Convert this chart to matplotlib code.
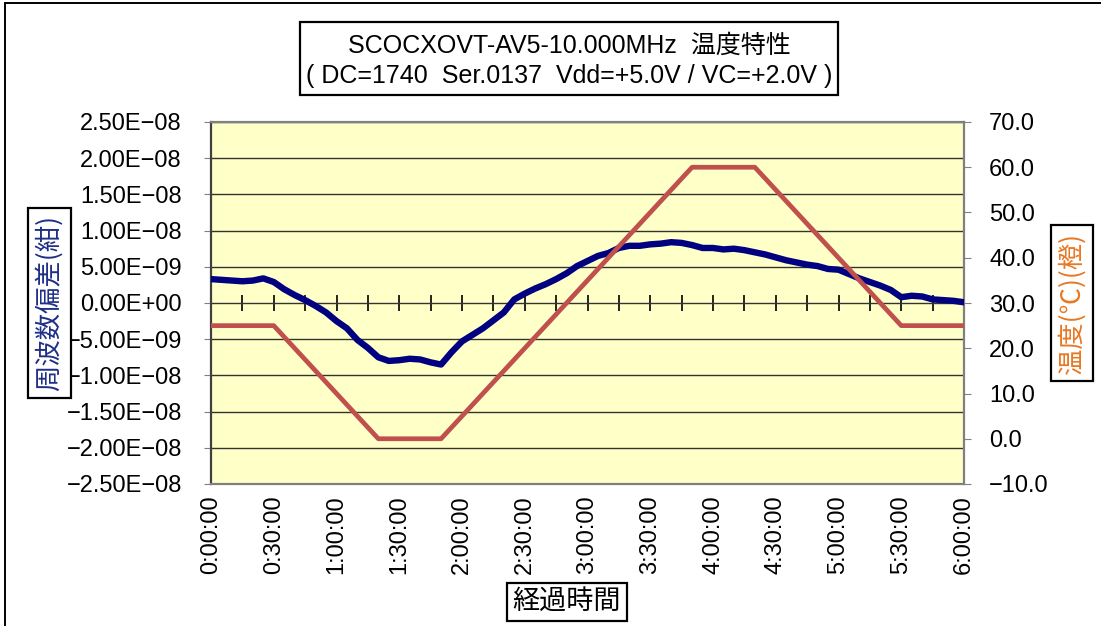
import matplotlib
matplotlib.use("Agg")
import matplotlib.pyplot as plt
from matplotlib.ticker import MultipleLocator, FuncFormatter
from matplotlib.patches import Rectangle

# ---- data ----
freq_time_min = list(range(0, 361, 5))
freq_dev_e9 = [3.3, 3.2, 3.1, 3.0, 3.1, 3.4, 2.9, 1.9, 1.1, 0.4,
               -0.4, -1.3, -2.5, -3.5, -5.1, -6.2, -7.5, -8.0, -7.9, -7.7,
               -7.8, -8.2, -8.5, -6.8, -5.3, -4.4, -3.5, -2.4, -1.3, 0.5,
               1.3, 2.0, 2.6, 3.3, 4.1, 5.1, 5.8, 6.5, 6.9, 7.6,
               7.9, 7.9, 8.1, 8.2, 8.4, 8.3, 8.0, 7.6, 7.6, 7.4,
               7.5, 7.3, 7.0, 6.7, 6.3, 5.9, 5.6, 5.3, 5.1, 4.7,
               4.6, 4.0, 3.4, 2.9, 2.4, 1.8, 0.8, 1.0, 0.9, 0.5,
               0.4, 0.3, 0.1]
freq_dev = [v * 1e-9 for v in freq_dev_e9]

temp_time_min = [0, 30, 80, 110, 230, 260, 330, 360]
temp_c = [25, 25, 0, 0, 60, 60, 25, 25]

x_ticks_min = list(range(0, 361, 30))

title_line1 = "SCOCXOVT-AV5-10.000MHz  温度特性"
title_line2 = "( DC=1740  Ser.0137  Vdd=+5.0V / VC=+2.0V )"
ylabel_left = "周波数偏差(紺)"
ylabel_right = "温度(℃)(橙)"
xlabel = "経過時間"

# ---- figure ----
W, H = 1101, 626
fig = plt.figure(figsize=(W / 100, H / 100), dpi=100)
fig.patch.set_facecolor("white")

def fx(px):
    return px / W

def fy(py):
    return 1 - py / H

TS = 17  # tick font size

ax = fig.add_axes([fx(211), fy(484), fx(964) - fx(211), fy(122) - fy(484)])
ax.set_facecolor("#FFFFC8")
ax.set_xlim(0, 360)
ax.set_ylim(-2.5e-8, 2.5e-8)
ax.yaxis.set_major_locator(MultipleLocator(5e-9))
ax.set_axisbelow(True)
ax.yaxis.grid(True, color="#333333", lw=1.0)

def yfmt(v, pos):
    if abs(v) < 1e-12:
        v = 0.0
    return f"{v:.2E}".replace("-", "\u2212")

ax.yaxis.set_major_formatter(FuncFormatter(yfmt))
ax.set_xticks(x_ticks_min)
ax.set_xticklabels([f"{m // 60}:{m % 60:02d}:00" for m in x_ticks_min],
                   rotation=90, family="Liberation Sans", size=TS)
ax.tick_params(axis="y", direction="out", length=5, color="#808080", pad=16,
               labelsize=TS)
ax.tick_params(axis="x", length=0, pad=8)
for side in ["left", "right", "top", "bottom"]:
    ax.spines[side].set_color("#808080")
    ax.spines[side].set_linewidth(1.6)
ax.spines["left"].set_color("#404040")

ax.plot(freq_time_min, freq_dev, color="#000080", lw=4.6, zorder=3,
        solid_joinstyle="round", solid_capstyle="round")

# category axis crossing at zero
sec = ax.secondary_xaxis(0.5)
sec.set_xticks(list(range(0, 361, 15)))
sec.tick_params(direction="inout", length=11, width=1.2, color="black",
                labelbottom=False, labeltop=False)
sec.spines["bottom"].set_color("black")
sec.spines["bottom"].set_linewidth(1.2)
sec.spines["top"].set_visible(False)

ax2 = ax.twinx()
ax2.set_ylim(-10, 70)
ax2.yaxis.set_major_locator(MultipleLocator(10))
ax2.yaxis.set_major_formatter(FuncFormatter(lambda v, p: f"{v:.1f}".replace("-", "\u2212")))
ax2.tick_params(axis="y", direction="out", length=5, color="#808080", pad=13,
                labelsize=TS)
for side in ["left", "right", "top", "bottom"]:
    ax2.spines[side].set_visible(False)
ax2.plot(temp_time_min, temp_c, color="#C0504D", lw=3.4, zorder=3)

for lab in ax.get_yticklabels() + ax2.get_yticklabels():
    lab.set_fontfamily("Liberation Sans")

fams = ["Liberation Sans", "Noto Sans CJK JP"]

# title box
fig.add_artist(Rectangle((fx(300), fy(95)), fx(838) - fx(300), fy(22) - fy(95),
                         transform=fig.transFigure, fill=False, ec="black", lw=1.6))
fig.text(fx(569), fy(46), title_line1, ha="center", va="center", family=fams, size=18)
fig.text(fx(569), fy(76), title_line2, ha="center", va="center", family=fams, size=18)

# axis label boxes
fig.text(fx(49.5), fy(303), ylabel_left, rotation=90, ha="center", va="center",
         family=["Noto Sans CJK JP"], size=19, color="#1F2F86",
         bbox=dict(boxstyle="square,pad=0.28", fc="white", ec="black", lw=1.6))
fig.text(fx(1072), fy(303), ylabel_right, rotation=90, ha="center", va="center",
         family=["Noto Sans CJK JP"], size=19, color="#E87722",
         bbox=dict(boxstyle="square,pad=0.28", fc="white", ec="black", lw=1.6))
fig.text(fx(567), fy(602), xlabel, ha="center", va="center",
         family=["Noto Sans CJK JP"], size=19.5, color="black",
         bbox=dict(boxstyle="square,pad=0.22", fc="white", ec="black", lw=1.6))

# outer chart frame (left and top edges visible)
fig.add_artist(Rectangle((fx(5), -0.05), 1.2, fy(3) + 0.05,
                         transform=fig.transFigure, fill=False, ec="black", lw=1.4))

fig.savefig("out.png", dpi=100)
